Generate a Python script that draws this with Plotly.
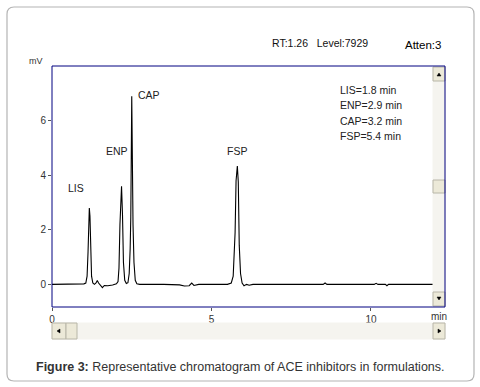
import plotly.graph_objects as go

# ---- data (time in min, signal in mV) ----
time_min = [0.0, 0.5, 1.0, 1.06, 1.10, 1.13, 1.15, 1.17, 1.19, 1.21, 1.24, 1.28, 1.33,
            1.38, 1.42, 1.46, 1.52, 1.58, 1.64, 1.75, 1.90, 2.02, 2.07, 2.10, 2.13, 2.16,
            2.18, 2.21, 2.24, 2.28, 2.33, 2.38, 2.42, 2.45, 2.47, 2.50, 2.52, 2.54, 2.57,
            2.61, 2.66, 2.75, 3.5, 4.0, 4.15, 4.30, 4.38, 4.45, 4.6, 5.5, 5.62, 5.68,
            5.74, 5.77, 5.81, 5.84, 5.87, 5.91, 5.96, 6.02, 6.10, 6.18, 6.3, 8.5, 8.56,
            8.62, 10.1, 10.16, 10.22, 10.45, 10.50, 10.55, 12.3]
signal_mv = [0.0, 0.0, 0.02, 0.05, 0.3, 1.2, 2.1, 2.8, 2.5, 1.2, 0.3, 0.05, 0.0,
             0.05, 0.14, 0.05, -0.05, -0.12, -0.04, -0.05, -0.02, 0.02, 0.1, 0.6, 2.2, 3.6,
             3.6, 2.55, 0.8, 0.15, 0.03, 0.06, 0.4, 1.3, 2.46, 6.9, 3.9, 2.2, 0.8,
             0.15, 0.02, 0.0, 0.0, -0.02, -0.06, -0.05, 0.05, -0.04, 0.0, 0.0, 0.05, 0.3,
             1.9, 3.8, 4.34, 3.76, 1.43, 0.4, 0.05, -0.05, 0.0, -0.03, 0.0, 0.0, 0.05,
             0.0, 0.0, 0.04, 0.0, 0.0, -0.05, 0.0, 0.0]

peak_names = ["LIS", "ENP", "CAP", "FSP"]
peak_label_t = [0.75, 2.05, 3.05, 5.79]
peak_label_v = [3.55, 4.9, 6.95, 4.9]
rt_legend = ["LIS=1.8 min", "ENP=2.9 min", "CAP=3.2 min", "FSP=5.4 min"]

x_ticks = [0, 5, 10]
y_ticks = [0, 2, 4, 6]

W, H = 480, 387
L, R, T, B = 52, 445, 66, 307  # plot area in pixels
XMAX = 12.32
YMIN, YMAX = -0.83, 8.01


def px(x):
    return (x - L) / (R - L)


def py(y):
    return (B - y) / (B - T)


fig = go.Figure()
fig.add_trace(go.Scatter(x=time_min, y=signal_mv, mode="lines",
                         line=dict(color="black", width=1.1), hoverinfo="skip",
                         showlegend=False))

shapes = []
annotations = []


def rrect(x0, y0, x1, y1, r):
    return (f"M {px(x0 + r)} {py(y0)} L {px(x1 - r)} {py(y0)} "
            f"Q {px(x1)} {py(y0)} {px(x1)} {py(y0 + r)} L {px(x1)} {py(y1 - r)} "
            f"Q {px(x1)} {py(y1)} {px(x1 - r)} {py(y1)} L {px(x0 + r)} {py(y1)} "
            f"Q {px(x0)} {py(y1)} {px(x0)} {py(y1 - r)} L {px(x0)} {py(y0 + r)} "
            f"Q {px(x0)} {py(y0)} {px(x0 + r)} {py(y0)} Z")


shapes.append(dict(type="path", xref="paper", yref="paper", path=rrect(7, 7, 474, 381, 7),
                   line=dict(color="#b4b4b4", width=1.2), fillcolor="rgba(0,0,0,0)",
                   layer="below"))


def rect(x0, y0, x1, y1, fill, line="#b8b6a8", lw=1):
    shapes.append(dict(type="rect", xref="paper", yref="paper",
                       x0=px(x0), x1=px(x1), y0=py(y1), y1=py(y0),
                       fillcolor=fill, line=dict(color=line, width=lw), layer="above"))


def tri(points):
    d = "M " + " L ".join(f"{px(a)} {py(b)}" for a, b in points) + " Z"
    shapes.append(dict(type="path", xref="paper", yref="paper", path=d,
                       fillcolor="black", line=dict(color="black", width=0.5), layer="above"))


track = "#f5f4ef"
btn = "#ece9d8"
# vertical scrollbar
rect(433, 67, 445, 306, track, line=track)
rect(433, 67, 445, 81, btn)
rect(433, 180, 445, 193, btn)
rect(433, 292, 445, 306, btn)
tri([(437, 76), (441, 76), (439, 73)])
tri([(437, 297), (441, 297), (439, 300)])
# horizontal scrollbar
rect(52, 323, 445, 339, track, line=track)
rect(52, 323, 66, 339, btn)
rect(66, 323, 77, 339, btn)
rect(433, 323, 445, 339, btn)
tri([(60, 329), (60, 333), (57, 331)])
tri([(438, 329), (438, 333), (441, 331)])

# navy frame
shapes.append(dict(type="rect", xref="paper", yref="paper", x0=0, x1=1, y0=0, y1=1,
                   line=dict(color="#000080", width=1), fillcolor="rgba(0,0,0,0)",
                   layer="above"))

label_font = dict(family="Liberation Sans, Arial", size=10.5, color="#222")
for name, t, v in zip(peak_names, peak_label_t, peak_label_v):
    annotations.append(dict(x=t, y=v, xref="x", yref="y", text=name, showarrow=False,
                            font=label_font, xanchor="center", yanchor="middle"))

for i, txt in enumerate(rt_legend):
    annotations.append(dict(x=px(338), y=py(90 + i * 15.3), xref="paper", yref="paper",
                            text=txt, showarrow=False, font=label_font,
                            xanchor="left", yanchor="middle"))

annotations += [
    dict(x=px(270), y=py(43), xref="paper", yref="paper",
         text="RT:1.26&nbsp;&nbsp;&nbsp;Level:7929", showarrow=False,
         font=dict(family="Liberation Sans", size=10.5, color="#111"),
         xanchor="left", yanchor="middle"),
    dict(x=px(443), y=py(44.5), xref="paper", yref="paper", text="Atten:3", showarrow=False,
         font=dict(family="Liberation Sans", size=11.5, color="#000"),
         xanchor="right", yanchor="middle"),
    dict(x=px(45), y=py(61), xref="paper", yref="paper", text="mV", showarrow=False,
         font=dict(family="Liberation Sans", size=9, color="#333"),
         xanchor="right", yanchor="middle"),
    dict(x=px(439), y=py(316), xref="paper", yref="paper", text="min", showarrow=False,
         font=dict(family="Liberation Sans", size=10, color="#333"),
         xanchor="center", yanchor="middle"),
    dict(x=px(240), y=py(367), xref="paper", yref="paper",
         text="<b>Figure 3:</b> Representative chromatogram of ACE inhibitors in formulations.",
         showarrow=False, font=dict(family="Liberation Sans, Arial", size=12.5, color="#333"),
         xanchor="center", yanchor="middle"),
]

fig.update_layout(
    width=W, height=H,
    margin=dict(l=L, r=W - R, t=T, b=H - B, pad=0),
    paper_bgcolor="white", plot_bgcolor="white",
    shapes=shapes, annotations=annotations,
    xaxis=dict(range=[0, XMAX], tickvals=x_ticks, ticktext=[str(v) for v in x_ticks],
               showgrid=False, zeroline=False, showline=False, ticks="outside",
               ticklen=3, tickcolor="#555",
               tickfont=dict(family="Liberation Sans", size=10, color="#333")),
    yaxis=dict(range=[YMIN, YMAX], tickvals=y_ticks, ticktext=[str(v) for v in y_ticks],
               showgrid=False, zeroline=False, showline=False, ticks="outside",
               ticklen=3, tickcolor="#555",
               tickfont=dict(family="Liberation Sans", size=10, color="#333")),
)

fig.write_html("out.html", config={"displayModeBar": False})

# remove the browser's default page margin so the figure sits at (0, 0)
with open("out.html", "r", encoding="utf-8") as f:
    html = f.read()
html = html.replace("<head>", "<head><style>html,body{margin:0;padding:0;overflow:hidden;}</style>", 1)
with open("out.html", "w", encoding="utf-8") as f:
    f.write(html)
